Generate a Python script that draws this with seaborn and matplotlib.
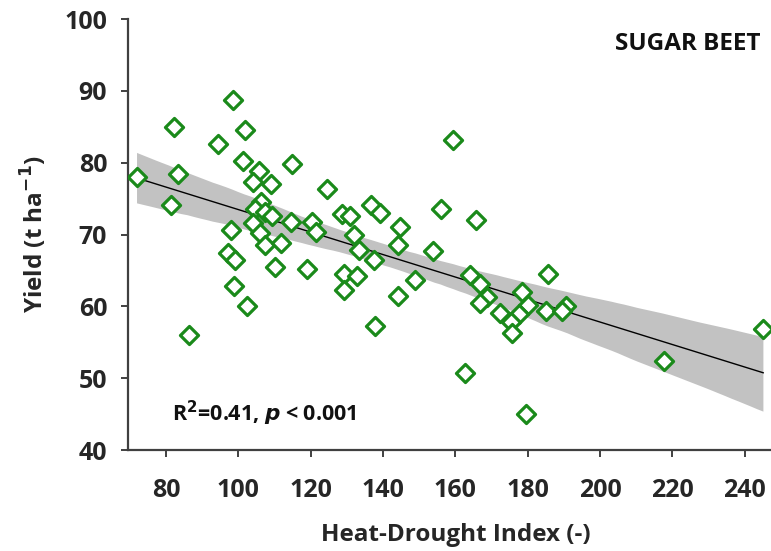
import numpy as np
import pandas as pd
import matplotlib
matplotlib.use("Agg")
import matplotlib.pyplot as plt
import seaborn as sns
from matplotlib.collections import PolyCollection

hdi = [72.0, 82.2, 83.2, 81.3, 86.3, 94.5, 98.5, 101.9, 101.4, 105.6,
       104.2, 109.1, 114.8, 124.6, 106.2, 104.5, 107.5, 109.2, 104.2, 114.5,
       120.5, 121.6, 106.0, 98.1, 107.5, 111.9, 97.2, 99.1, 110.1, 118.9,
       98.9, 102.3, 159.4, 128.6, 131.0, 136.6, 139.3, 156.1, 165.7, 144.8,
       132.0, 144.2, 133.3, 153.9, 137.5, 129.2, 132.7, 129.2, 148.9, 144.2,
       137.7, 164.2, 166.9, 168.9, 166.7, 178.4, 180.2, 172.5, 177.6, 175.5,
       175.8, 185.6, 185.1, 190.7, 189.4, 162.7, 179.6, 217.6, 245.2]
yld = [78.0, 85.0, 78.4, 74.1, 56.0, 82.6, 88.7, 84.5, 80.2, 78.9,
       77.3, 77.0, 79.8, 76.4, 74.6, 73.5, 73.2, 72.6, 71.6, 71.8,
       71.8, 70.4, 70.2, 70.6, 68.5, 68.8, 67.4, 66.5, 65.5, 65.2,
       62.9, 60.1, 83.2, 72.9, 72.6, 74.1, 73.0, 73.5, 72.0, 71.0,
       69.9, 68.5, 67.9, 67.7, 66.5, 64.5, 64.2, 62.3, 63.7, 61.4,
       57.3, 64.4, 63.1, 61.3, 60.5, 62.0, 60.2, 59.1, 58.9, 57.9,
       56.3, 64.5, 59.4, 60.1, 59.3, 50.7, 45.1, 52.4, 56.8]

x_ticks = [80, 100, 120, 140, 160, 180, 200, 220, 240]
y_ticks = [40, 50, 60, 70, 80, 90, 100]

df = pd.DataFrame({"hdi": hdi, "yield": yld})

sns.set_theme(style="ticks")
plt.rcParams['font.family'] = ['Open Sans', 'DejaVu Sans']

fig = plt.figure(figsize=(7.71, 5.51), dpi=100)
ax = fig.add_axes([0.166, 0.183, 0.834, 0.7825])

sns.regplot(data=df, x="hdi", y="yield", ax=ax, ci=95, seed=3,
            color="black", marker="D",
            scatter_kws=dict(s=85, facecolors="white",
                             edgecolors="#1a8a1a", linewidths=2.3, alpha=1, zorder=3),
            line_kws=dict(color="black", lw=1.0, zorder=2))

for c in ax.collections:
    if isinstance(c, PolyCollection):
        c.set_facecolor("#c2c2c2")
        c.set_alpha(1)
        c.set_edgecolor("none")
        c.set_zorder(1)

ax.set_xlim(69.5, 247.3)
ax.set_ylim(40, 100)
ax.set_xticks(x_ticks)
ax.set_yticks(y_ticks)
ax.set_xticklabels([str(t) for t in x_ticks], fontsize=18, fontweight="bold", color="#262626")
ax.set_yticklabels([str(t) for t in y_ticks], fontsize=18, fontweight="bold", color="#262626")
ax.tick_params(axis="both", direction="out", length=5, width=1.4, color="#404040")
ax.tick_params(axis="x", pad=15)
ax.tick_params(axis="y", pad=10)

for s in ["top", "right"]:
    ax.spines[s].set_visible(False)
for s in ["left", "bottom"]:
    ax.spines[s].set_color("#404040")
    ax.spines[s].set_linewidth(1.6)

ax.set_xlabel("Heat-Drought Index (-)", fontsize=17.5, fontweight="bold", color="#262626")
ax.set_ylabel("Yield (t ha$^{\\mathbf{-1}}$)", fontsize=17.5, fontweight="bold", color="#262626")
ax.xaxis.set_label_coords(0.51, -0.17)
ax.yaxis.set_label_coords(-0.122, 0.5)

ax.text(0.871, 0.942, "SUGAR BEET", transform=ax.transAxes, fontsize=17.5,
        fontweight="bold", ha="center", va="center", color="#111111")
ax.text(0.068, 0.086, "R$^{\\mathbf{2}}$=0.41, $\\boldsymbol{p}$ < 0.001", transform=ax.transAxes,
        fontsize=15.5, fontweight="bold", ha="left", va="center", color="#111111")

fig.savefig("out.png", dpi=100)
